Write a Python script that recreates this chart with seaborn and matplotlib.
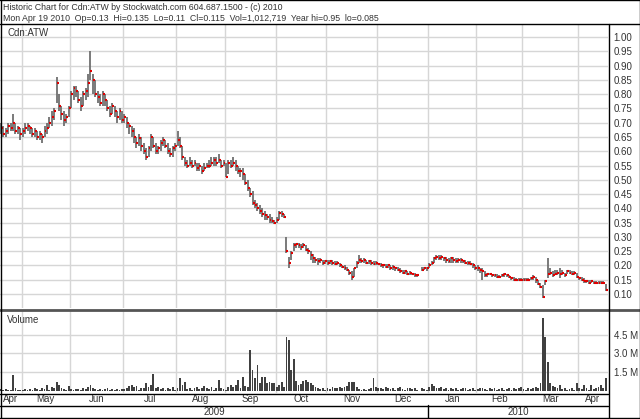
import numpy as np
import pandas as pd
import matplotlib
matplotlib.use('Agg')
import matplotlib.pyplot as plt
import matplotlib.transforms as mtransforms
from matplotlib.lines import Line2D
import seaborn as sns

# trading days (TSX-V holidays removed)
holidays = ['2009-05-18', '2009-07-01', '2009-08-03', '2009-09-07', '2009-10-12',
            '2009-12-25', '2009-12-28', '2010-01-01', '2010-02-15', '2010-04-02']
dates = pd.bdate_range('2009-04-20', '2010-04-19')
dates = dates[~dates.isin(pd.to_datetime(holidays))]

nan = np.nan
close = [
    .68, .66, .67, .69, .68, .70, .67, .68, .66, .67,
    .68, .69, .68, .66, .67, .65, .66, .65, .67, .68,
    .70, .72, .74, .84, .76, .73, .71, .72, .75, .80,
    .82, .81, .78, .76, .80, .81, .84, .88, .85, .80,
    .79, .77, .80, .78, .75, .73, .76, .74, .72, .74,
    .71, .72, .70, .69, .67, .65, .63, .645, .62, .60,
    .58, .61, .65, .62, .60, .61, .63, .64, .62, .60,
    .59, .61, .62, .64, .62, .58, .56, .55, .56, .55,
    .56, .54, .55, .53, .54, .55, .55, .56, .57, .56,
    .57, .55, .56, .51, .56, .55, .56, .55, .53, .53,
    .52, .49, .47, .45, .42, .41, .40, .39, .38, .375,
    .37, .36, .355, .35, .36, .385, .38, .37, .25, .21,
    .245, .27, .275, .27, .265, .27, .255, .25, .235, .225,
    .22, .215, .22, .21, .215, .21, .215, .21, .205, .21,
    .20, .195, .19, .185, .175, .16, .19, .21, .22, .215,
    .22, .21, .215, .21, .205, .21, .205, .20, .20, .195,
    .20, .19, .195, .19, .185, .18, .175, .18, .17, .175,
    .17, .165, .165, nan, .185, .19, .19, .20, .21, .225,
    .23, .225, .23, .225, .22, .215, .225, .22, .215, .22,
    .22, .215, .21, .21, .205, .20, .19, .19, .185, .18,
    .165, .17, .17, .165, .165, .16, .16, .165, .17, .165,
    .16, .155, .15, .15, .15, .15, .15, .15, .15, .155,
    .16, .15, .135, .125, .09, .145, .17, .175, .165, .17,
    .175, .17, .175, .165, .18, .175, .17, .175, .16, .155,
    .15, .145, .145, .14, .145, .14, .14, .14, .14, .14,
    .115]
high = [
    .70, .69, .68, .70, .70, .73, .70, .69, .68, .68,
    .70, .70, .69, .68, .68, .67, .67, .66, .69, .70,
    .72, .74, .75, .86, .80, .76, .74, .73, .76, .81,
    .83, .83, .81, .79, .81, .82, .87, .95, .87, .85,
    .81, .80, .81, .80, .78, .76, .77, .76, .74, .75,
    .74, .73, .72, .70, .69, .68, .65, .66, .65, .63,
    .61, .62, .66, .65, .63, .62, .64, .65, .64, .63,
    .61, .62, .63, .67, .65, .62, .58, .57, .58, .57,
    .57, .56, .56, .55, .56, .56, .57, .58, .58, .58,
    .59, .57, .57, .56, .57, .57, .58, .57, .55, .54,
    .54, .52, .50, .47, .46, .43, .42, .41, .40, .39,
    .38, .38, .37, .36, .37, .39, .39, .38, .30, .23,
    .25, .28, .28, .28, .275, .28, .27, .26, .25, .24,
    .23, .225, .225, .22, .22, .22, .22, .22, .215, .215,
    .21, .20, .20, .195, .185, .18, .19, .215, .235, .225,
    .225, .22, .22, .22, .215, .215, .21, .21, .205, .205,
    .205, .20, .20, .195, .195, .19, .185, .185, .18, .18,
    .175, .175, .17, nan, .195, .195, .195, .21, .215, .23,
    .235, .235, .235, .23, .23, .225, .23, .23, .225, .225,
    .225, .22, .22, .215, .215, .21, .20, .20, .19, .19,
    .18, .175, .175, .17, .17, .17, .165, .17, .175, .17,
    .165, .16, .16, .155, .155, .155, .155, .155, .155, .16,
    .165, .16, .15, .14, .13, .15, .225, .19, .18, .185,
    .185, .19, .185, .175, .185, .185, .18, .18, .175, .16,
    .16, .155, .15, .15, .15, .145, .145, .145, .145, .145,
    .135]
low = [
    .66, .65, .65, .66, .67, .67, .66, .66, .64, .65,
    .66, .67, .66, .65, .65, .64, .64, .63, .65, .66,
    .68, .69, .71, .77, .74, .71, .69, .70, .72, .75,
    .78, .79, .77, .74, .76, .78, .79, .85, .80, .79,
    .77, .76, .76, .76, .74, .72, .73, .72, .70, .71,
    .70, .70, .68, .66, .65, .63, .61, .62, .60, .59,
    .57, .58, .60, .61, .59, .59, .60, .62, .61, .59,
    .58, .58, .60, .62, .61, .57, .55, .54, .55, .54,
    .55, .53, .53, .52, .53, .54, .54, .55, .55, .55,
    .56, .54, .55, .51, .52, .54, .55, .53, .52, .51,
    .50, .48, .46, .44, .41, .40, .39, .38, .37, .36,
    .36, .35, .35, .345, .35, .36, .37, .365, .245, .19,
    .22, .25, .26, .26, .255, .26, .25, .24, .22, .21,
    .21, .20, .21, .20, .205, .20, .205, .20, .20, .20,
    .195, .19, .185, .18, .165, .15, .16, .19, .21, .21,
    .21, .205, .205, .20, .20, .20, .20, .195, .19, .19,
    .19, .185, .185, .18, .18, .175, .17, .17, .165, .165,
    .165, .16, .16, nan, .18, .185, .18, .19, .20, .21,
    .22, .22, .22, .215, .21, .21, .21, .21, .21, .21,
    .21, .21, .205, .20, .20, .19, .185, .18, .175, .15,
    .16, .16, .165, .16, .16, .155, .155, .16, .16, .16,
    .155, .15, .145, .145, .145, .145, .145, .145, .145, .15,
    .15, .14, .13, .12, .085, .13, .155, .165, .16, .165,
    .165, .155, .165, .16, .17, .17, .165, .165, .155, .15,
    .145, .14, .14, .135, .14, .135, .135, .135, .135, .135,
    .11]
volume = [  # millions of shares
    .15, .08, .12, .06, .10, 1.25, .20, .08, .10, .05,
    .12, .10, .15, .10, .20, .12, .08, .25, .15, .45,
    .10, .30, .20, .70, .50, .25, .15, .10, .40, .15,
    .10, .12, .18, .10, .25, .15, .30, .50, .20, .15,
    .10, .12, .08, .15, .20, .10, .12, .08, .15, .10,
    .12, .18, .25, .40, .50, .30, .40, .10, .20, .20,
    .60, .30, .50, 1.35, .20, .35, .15, .25, .10, .20,
    .15, .30, .10, .20, 1.0, .45, .70, .15, .25, .10,
    .20, .30, .15, .25, .40, .20, .15, .30, .10, .25,
    .85, .20, .15, .10, .35, .50, .30, .45, .85, .20,
    1.15, .40, .35, 3.3, 1.65, 1.0, 2.1, .60, 1.1, 1.15,
    .60, .70, .60, .60, .30, .50, .70, .35, 4.3, 4.1,
    1.7, 2.55, .80, .45, .55, .80, .90, .75, .65, .50,
    .30, .20, .15, .25, .10, .20, .15, .30, .20, .25,
    .30, .20, .35, .40, .75, .75, .70, .30, .15, .10,
    .15, .10, .15, .20, 1.0, .30, .20, .25, .15, .30,
    .20, .15, .25, .10, .20, .30, .15, .10, .20, .25,
    .15, .20, .10, 0.0, .25, .15, .10, .30, .55, .40,
    .25, .20, .30, .15, .20, .10, .25, .15, .20, .10,
    .15, .20, .25, .10, .15, .20, .10, .15, .20, .25,
    .15, .10, .20, .15, .25, .10, .15, .20, .10, .15,
    .20, .10, .25, .15, .20, .30, .15, .10, .20, .15,
    .25, .30, .20, .60, 5.8, 4.3, 2.3, .60, .40, .30,
    .20, .45, .15, .20, .10, .15, .25, .10, .60, .20,
    .15, .50, .20, .10, .45, .15, .20, .30, .45, .20,
    1.0]

price_ticks = [0.10, 0.15, 0.20, 0.25, 0.30, 0.35, 0.40, 0.45, 0.50, 0.55,
               0.60, 0.65, 0.70, 0.75, 0.80, 0.85, 0.90, 0.95, 1.00]
vol_ticks = [1.5, 3.0, 4.5]
vol_labels = ['1.5 M', '3.0 M', '4.5 M']
header1 = 'Historic Chart for Cdn:ATW by Stockwatch.com 604.687.1500 - (c) 2010'
header2 = ('Mon Apr 19 2010  Op=0.13  Hi=0.135  Lo=0.11  Cl=0.115  '
           'Vol=1,012,719  Year hi=0.95  lo=0.085')

df = pd.DataFrame({'date': dates, 'close': close, 'high': high,
                   'low': low, 'volume': volume})
df['idx'] = np.arange(len(df))
traded = df.dropna()

sns.set_theme(style='white')
plt.rcParams['font.family'] = ['Liberation Sans', 'DejaVu Sans']
TXT = '#333333'
GRID = '#d6d6d6'

W, H = 640, 419
fig = plt.figure(figsize=(W / 100, H / 100), dpi=100)


def rect(x0, y0, x1, y1):
    return [x0 / W, 1 - y1 / H, (x1 - x0) / W, (y1 - y0) / H]


def hline(y, x0, x1, color='black', lw=1.0):
    fig.add_artist(Line2D([x0 / W, x1 / W], [1 - y / H, 1 - y / H],
                          color=color, lw=lw, transform=fig.transFigure))


def vline(x, y0, y1, color='black', lw=1.0):
    fig.add_artist(Line2D([x / W, x / W], [1 - y0 / H, 1 - y1 / H],
                          color=color, lw=lw, transform=fig.transFigure))


ax = fig.add_axes(rect(0, 24, 608, 308))
axv = fig.add_axes(rect(0, 311, 608, 393))

# month boundaries
month_start = df.groupby(df['date'].dt.to_period('M'))['idx'].min()
xmin, xmax = -0.4, 250.9
bounds = [s - 0.5 for s in month_start.values[1:]]

# price bars
ax.vlines(traded['idx'], traded['low'], traded['high'], color='#707070', lw=1.3)
ax.hlines(traded['close'], traded['idx'], traded['idx'] + 0.8, color='#e00000', lw=1.5)
ax.set_xlim(xmin, xmax)
ax.set_ylim(0.051, 1.0455)
ax.set_yticks(price_ticks)
ax.set_yticklabels(['%.2f' % v for v in price_ticks])
ax.yaxis.tick_right()
ax.set_xticks(bounds)
ax.set_xticklabels([])
ax.grid(True, color=GRID, lw=1.0)
ax.tick_params(axis='y', length=0, pad=4, labelsize=7, labelcolor=TXT)
ax.tick_params(axis='x', length=0)
for s in ax.spines.values():
    s.set_visible(False)
ax.text(8 / 608, 1 - 9 / 284, 'Cdn:ATW', transform=ax.transAxes,
        fontsize=7, color=TXT, va='center', ha='left')

# volume bars
sns.barplot(x=df['idx'], y=df['volume'], native_scale=True, color='#404040',
            saturation=1, width=0.75, errorbar=None, ax=axv, linewidth=0)
axv.set_xlim(xmin, xmax)
axv.set_ylim(-0.16, 6.39)
axv.set_yticks(vol_ticks)
axv.set_yticklabels(vol_labels)
axv.yaxis.tick_right()
axv.set_xticks(bounds)
axv.set_xticklabels([])
axv.set_xlabel('')
axv.set_ylabel('')
axv.grid(True, color=GRID, lw=1.0)
axv.tick_params(axis='y', length=0, pad=4, labelsize=7, labelcolor=TXT)
axv.tick_params(axis='x', length=0)
for s in axv.spines.values():
    s.set_visible(False)
axv.text(7 / 608, 1 - 9 / 82, 'Volume', transform=axv.transAxes,
         fontsize=7, color=TXT, va='center', ha='left')

# month and year labels
edges = [xmin] + bounds + [xmax]
names = [p.strftime('%b') for p in month_start.index]
trans = mtransforms.blended_transform_factory(axv.transData, axv.transAxes)
for name, a, b in zip(names, edges[:-1], edges[1:]):
    axv.text((a + b) / 2, -(399 - 393) / 82, name, transform=trans,
             ha='center', va='center', fontsize=7, color=TXT)
jan = bounds[names.index('Jan') - 1]
axv.text((xmin + jan) / 2, -(412 - 393) / 82, '2009', transform=trans,
         ha='center', va='center', fontsize=7, color=TXT)
axv.text((jan + xmax) / 2, -(412 - 393) / 82, '2010', transform=trans,
         ha='center', va='center', fontsize=7, color=TXT)

# header
fig.text(3 / W, 1 - 7 / H, header1, fontsize=6.3, color=TXT, va='center', ha='left')
fig.text(3 / W, 1 - 18.5 / H, header2, fontsize=6.3, color=TXT, va='center', ha='left')

# frame lines
hline(24.5, 0, 640)
hline(309.5, 0, 640, color='#555555', lw=2.0)
hline(393.5, 0, 608)
hline(405.5, 0, 608)
hline(418, 0, 640)
vline(608.5, 24, 419)
vline(0.5, 0, 419)
vline(639.5, 0, 419)
hline(0.5, 0, 640)
jan_px = (jan - xmin) / (xmax - xmin) * 608
vline(jan_px, 405, 418)

fig.savefig('out.png', dpi=100)
